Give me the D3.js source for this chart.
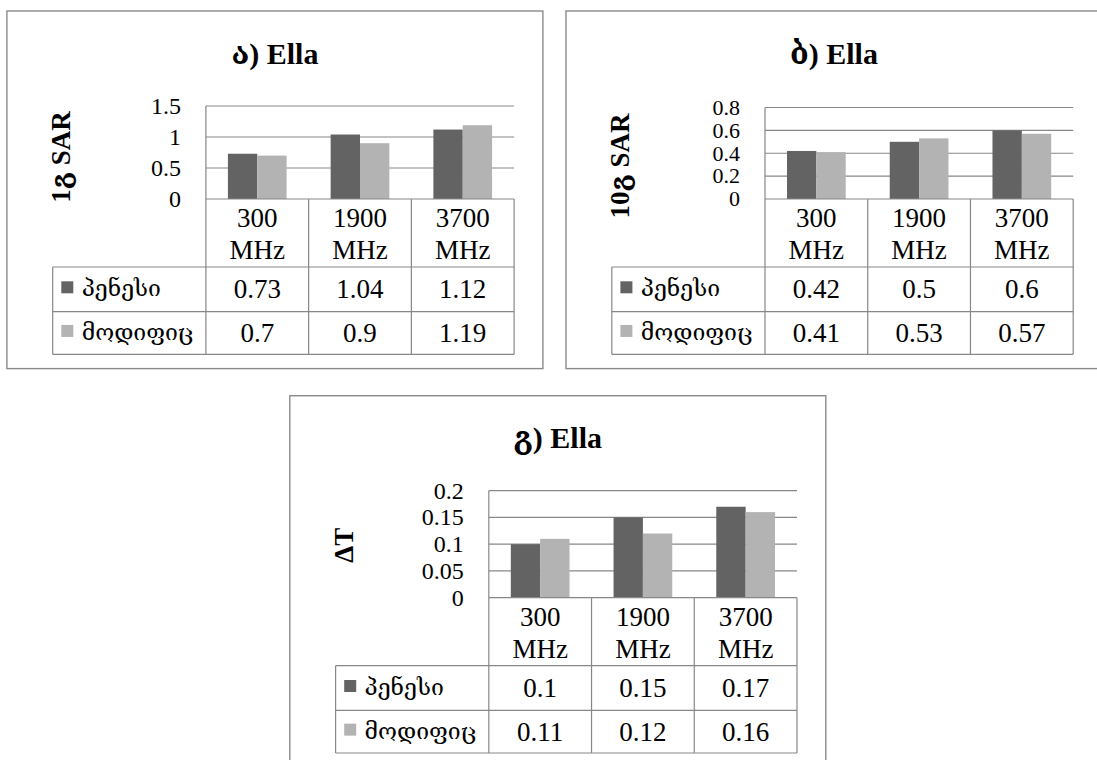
<!DOCTYPE html>
<html>
<head>
<meta charset="utf-8">
<script src="https://cdn.jsdelivr.net/npm/d3@7"></script>
<style>
  html, body { margin: 0; padding: 0; background: #fff; }
  svg { display: block; }
  text { font-family: "Liberation Serif", "DejaVu Serif", serif; fill: #000; }
</style>
</head>
<body>
<svg id="chart" width="1097" height="760"></svg>
<script>
// ---- Data ----
const categories = ["300 MHz", "1900 MHz", "3700 MHz"];
const seriesNames = ["პენესი", "მოდიფიც"];

const sar1gPenesi = [0.73, 1.04, 1.12];
const sar1gModif  = [0.7, 0.9, 1.19];
const sar1gTicks  = [0, 0.5, 1, 1.5];

const sar10gPenesi = [0.42, 0.5, 0.6];
const sar10gModif  = [0.41, 0.53, 0.57];
const sar10gTicks  = [0, 0.2, 0.4, 0.6, 0.8];

const dTPenesi = [0.1, 0.15, 0.17];
const dTModif  = [0.11, 0.12, 0.16];
const dTTicks  = [0, 0.05, 0.1, 0.15, 0.2];

const panelTitles = ["ა) Ella", "ბ) Ella", "გ) Ella"];
const yTitles = ["1გ SAR", "10გ SAR", "ΔT"];

// ---- Styling ----
const seriesColors = ["#636363", "#b3b3b3"];
const lineColor = "#878787";

const svg = d3.select("#chart");

const panels = [
  { x: 6.9, y: 11, title: panelTitles[0], yTitle: yTitles[0], series: [sar1gPenesi, sar1gModif], ticks: sar1gTicks, top: 95, zero: 188, yTitleY: 146, tickFont: 24 },
  { x: 566, y: 11, title: panelTitles[1], yTitle: yTitles[1], series: [sar10gPenesi, sar10gModif], ticks: sar10gTicks, top: 96.5, zero: 188, yTitleY: 155, tickFont: 22 },
  { x: 289.8, y: 395.7, title: panelTitles[2], yTitle: yTitles[2], series: [dTPenesi, dTModif], ticks: dTTicks, top: 95, zero: 202, yTitleY: 149.5, tickFont: 24 }
];

const W = 536;
const plotL = 199, plotR = 507.2;
const legendL = 45.8;
const catRowH = 68, rowH = [44.6, 42.7];
const tableFont = 27;

panels.forEach(p => {
  const g = svg.append("g").attr("transform", `translate(${p.x},${p.y})`);
  const tableBottom = p.zero + catRowH + rowH[0] + rowH[1];
  const H = tableBottom + 14.3;

  // outer border
  g.append("rect").attr("x", 0).attr("y", 0).attr("width", W).attr("height", H)
    .attr("fill", "#fff").attr("stroke", "#8a8a8a").attr("stroke-width", 1.4);

  // title
  g.append("text").attr("x", W / 2).attr("y", 52.5).attr("text-anchor", "middle")
    .attr("font-size", 30).attr("font-weight", "bold").text(p.title);

  const x = d3.scaleBand().domain(categories).range([plotL, plotR]).paddingInner(0).paddingOuter(0);
  const y = d3.scaleLinear().domain([0, d3.max(p.ticks)]).range([p.zero, p.top]);

  // gridlines
  g.append("g").selectAll("line").data(p.ticks.filter(t => t > 0)).join("line")
    .attr("x1", plotL).attr("x2", plotR)
    .attr("y1", d => y(d)).attr("y2", d => y(d))
    .attr("stroke", lineColor).attr("stroke-width", 1.2);

  // y axis line
  g.append("line").attr("x1", plotL).attr("x2", plotL).attr("y1", p.top).attr("y2", p.zero)
    .attr("stroke", lineColor).attr("stroke-width", 1.2);

  // tick labels
  g.append("g").selectAll("text").data(p.ticks).join("text")
    .attr("x", plotL - 25).attr("y", d => y(d)).attr("dy", "0.33em")
    .attr("text-anchor", "end").attr("font-size", p.tickFont)
    .text(d => String(d));

  // bars
  const bw = x.bandwidth();
  const barW = bw / 3.5;
  const off = (bw - 2 * barW) / 2;
  p.series.forEach((vals, si) => {
    g.append("g").selectAll("rect").data(vals).join("rect")
      .attr("x", (d, i) => x(categories[i]) + off + si * barW)
      .attr("y", d => y(d))
      .attr("width", barW)
      .attr("height", d => y(0) - y(d))
      .attr("fill", seriesColors[si]);
  });

  // y title (rotated)
  g.append("text")
    .attr("transform", `translate(53.5,${p.yTitleY}) rotate(-90)`)
    .attr("text-anchor", "middle").attr("dy", "0.35em")
    .attr("font-size", 27).attr("font-weight", "bold").text(p.yTitle);

  // ---- data table ----
  const r1 = p.zero + catRowH;
  const r2 = r1 + rowH[0];
  const r3 = r2 + rowH[1];
  const tg = g.append("g").attr("stroke", lineColor).attr("stroke-width", 1.2);
  tg.append("line").attr("x1", plotL).attr("x2", plotR).attr("y1", p.zero).attr("y2", p.zero);
  [r1, r2, r3].forEach(yy => tg.append("line").attr("x1", legendL).attr("x2", plotR).attr("y1", yy).attr("y2", yy));
  tg.append("line").attr("x1", legendL).attr("x2", legendL).attr("y1", r1).attr("y2", r3);
  const bounds = categories.map(c => x(c)).concat([plotR]);
  bounds.forEach(bx => tg.append("line").attr("x1", bx).attr("x2", bx).attr("y1", p.zero).attr("y2", r3));

  // category labels (two lines)
  categories.forEach(c => {
    const parts = c.split(" ");
    const cx = x(c) + bw / 2;
    g.append("text").attr("x", cx).attr("y", p.zero + 19).attr("dy", "0.34em")
      .attr("text-anchor", "middle").attr("font-size", tableFont).text(parts[0]);
    g.append("text").attr("x", cx).attr("y", p.zero + 51).attr("dy", "0.34em")
      .attr("text-anchor", "middle").attr("font-size", tableFont).text(parts[1]);
  });

  // rows: legend key + values
  const rowTops = [r1, r2];
  p.series.forEach((vals, si) => {
    const cy = rowTops[si] + rowH[si] / 2;
    g.append("rect").attr("x", legendL + 8.6).attr("y", cy - 8).attr("width", 12).attr("height", 12)
      .attr("fill", seriesColors[si]);
    g.append("text").attr("x", legendL + 29).attr("y", cy).attr("dy", "0.3em")
      .attr("font-size", 23).text(seriesNames[si]);
    g.append("g").selectAll("text").data(vals).join("text")
      .attr("x", (d, i) => x(categories[i]) + bw / 2)
      .attr("y", cy).attr("dy", "0.34em")
      .attr("text-anchor", "middle").attr("font-size", tableFont)
      .text(d => String(d));
  });
});
</script>
</body>
</html>
